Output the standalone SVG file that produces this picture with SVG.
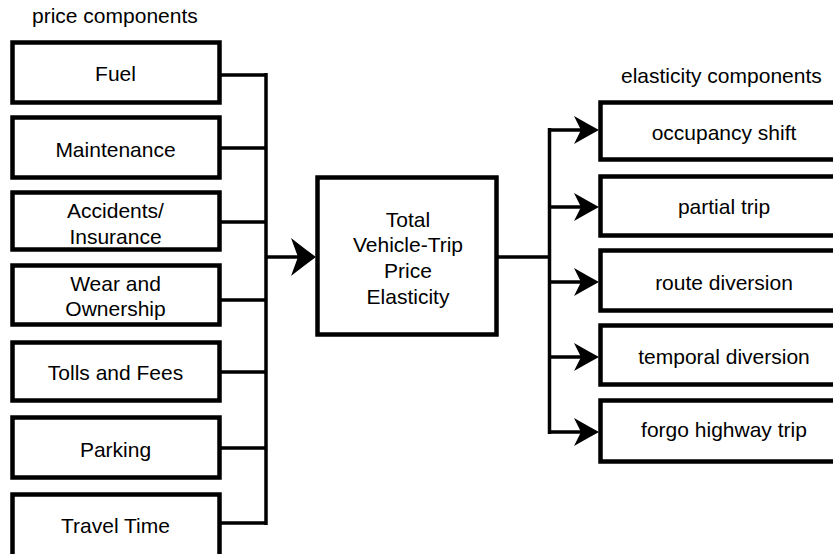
<svg xmlns="http://www.w3.org/2000/svg" width="833" height="554" viewBox="0 0 833 554">
<style>
  .box { fill: #fff; stroke: #000; stroke-width: 4.5; }
  .t { font-family: "Liberation Sans", Arial, sans-serif; font-size: 21px; fill: #000; text-anchor: middle; }
  .lbl { font-family: "Liberation Sans", Arial, sans-serif; font-size: 21px; fill: #000; }
  .line { fill: none; stroke: #000; stroke-width: 3.5; }
</style>
<defs>
  <path id="ah" d="M0,0 Q-11,-6 -25,-14 L-18,0 L-25,14 Q-11,6 0,0 Z" fill="#000"/>
  <path id="ahBig" d="M0,0 Q-11,-8 -25,-19 L-18,0 L-25,19 Q-11,8 0,0 Z" fill="#000"/>
</defs>
<rect width="833" height="554" fill="#fff"/>
<text class="lbl" x="32" y="23">price components</text>
<text class="lbl" x="621" y="83">elasticity components</text>

<g id="connectors">
  <path class="line" d="M219,75 H266 M219,148 H266 M219,222 H266 M219,300 H266 M219,372 H266 M219,448 H266 M219,523 H266 M266,73 V525"/>
  <path class="line" d="M266,257 H300"/>
  <use href="#ahBig" transform="translate(316,257)"/>
  <path class="line" d="M497,257 H549.5 M549.5,128 V434"/>
  <path class="line" d="M549.5,130 H584 M549.5,207 H584 M549.5,282 H584 M549.5,357 H584 M549.5,432 H584"/>
  <use href="#ah" transform="translate(599,130)"/>
  <use href="#ah" transform="translate(599,207)"/>
  <use href="#ah" transform="translate(599,282)"/>
  <use href="#ah" transform="translate(599,357)"/>
  <use href="#ah" transform="translate(599,432)"/>
</g>

<g id="fuel"><rect class="box" x="12.5" y="42.5" width="207" height="60"/><text class="t" x="115.5" y="81">Fuel</text></g>
<g id="maintenance"><rect class="box" x="12.5" y="117.5" width="207" height="60"/><text class="t" x="115.5" y="157">Maintenance</text></g>
<g id="accidents"><rect class="box" x="12.5" y="192.5" width="207" height="57"/><text class="t" x="115.5" y="218">Accidents/</text><text class="t" x="115.5" y="244">Insurance</text></g>
<g id="wear"><rect class="box" x="12.5" y="265.5" width="207" height="59"/><text class="t" x="115.5" y="291">Wear and</text><text class="t" x="115.5" y="316">Ownership</text></g>
<g id="tolls"><rect class="box" x="12.5" y="342.5" width="207" height="58"/><text class="t" x="115.5" y="380">Tolls and Fees</text></g>
<g id="parking"><rect class="box" x="12.5" y="417.5" width="207" height="60"/><text class="t" x="115.5" y="457">Parking</text></g>
<g id="travel"><rect class="box" x="12.5" y="494.5" width="207" height="70"/><text class="t" x="115.5" y="533">Travel Time</text></g>

<g id="total"><rect class="box" x="317.5" y="177.5" width="179" height="157"/>
  <text class="t" x="408" y="227">Total</text>
  <text class="t" x="408" y="252">Vehicle-Trip</text>
  <text class="t" x="408" y="278">Price</text>
  <text class="t" x="408" y="304">Elasticity</text>
</g>

<g id="occupancy"><rect class="box" x="600.5" y="102.5" width="250" height="57"/><text class="t" x="724" y="140">occupancy shift</text></g>
<g id="partial"><rect class="box" x="600.5" y="176.5" width="250" height="59"/><text class="t" x="724" y="214">partial trip</text></g>
<g id="route"><rect class="box" x="600.5" y="250.5" width="250" height="60"/><text class="t" x="724" y="290">route diversion</text></g>
<g id="temporal"><rect class="box" x="600.5" y="325.5" width="250" height="59"/><text class="t" x="724" y="364">temporal diversion</text></g>
<g id="forgo"><rect class="box" x="600.5" y="400.5" width="250" height="61"/><text class="t" x="724" y="437">forgo highway trip</text></g>
</svg>
